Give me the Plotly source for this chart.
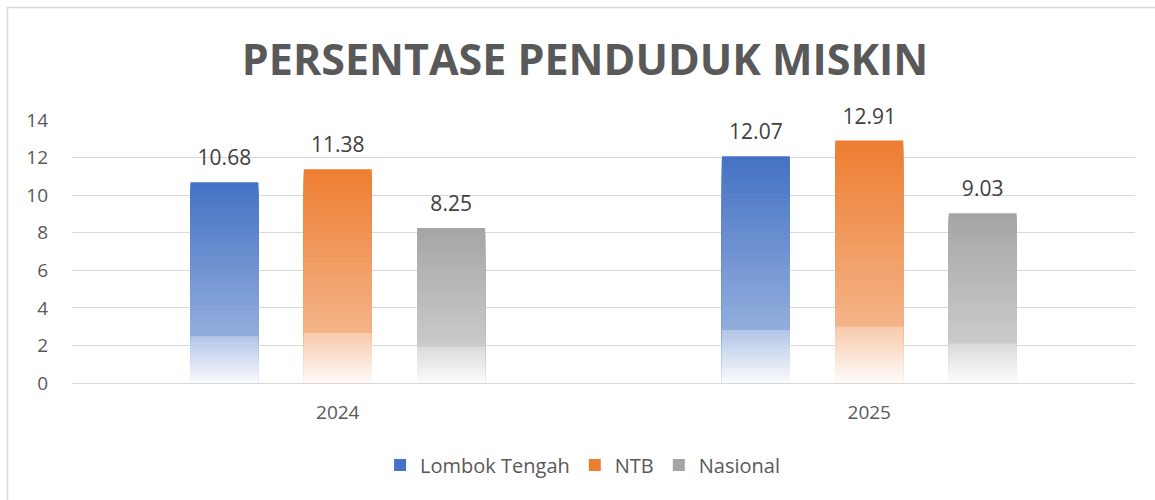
import plotly.graph_objects as go

# ---- data ----
years = ["2024", "2025"]
lombok_tengah = [10.68, 12.07]
ntb = [11.38, 12.91]
nasional = [8.25, 9.03]
series_names = ["Lombok Tengah", "NTB", "Nasional"]
y_tick_vals = [0, 2, 4, 6, 8, 10, 12, 14]
title_text = "PERSENTASE PENDUDUK MISKIN"

# ---- style ----
base_colors = [(68, 114, 196), (237, 125, 49), (165, 165, 165)]
N_LEVELS = 60
LABEL_PAD = 0.42


def mix_white(rgb, t):
    return "rgb(%d,%d,%d)" % tuple(round(c + (255 - c) * t) for c in rgb)


def grad_t(f):
    # f: fraction of bar height (0 = bottom, 1 = top)
    if f >= 0.24:
        return 0.42 * (1 - f) / 0.76
    return 0.58 + (0.24 - f) / 0.24 * (0.97 - 0.58)


fig = go.Figure()
series_values = [lombok_tengah, ntb, nasional]
for s, (name, vals, rgb) in enumerate(zip(series_names, series_values, base_colors)):
    for k in range(N_LEVELS):
        f_top = 1 - k / N_LEVELS
        f_mid = f_top - 0.5 / N_LEVELS
        fig.add_trace(go.Bar(
            x=years,
            y=[v * f_top for v in vals],
            name=name,
            legendgroup=name,
            showlegend=(k == 0),
            offsetgroup=str(s),
            marker=dict(color=mix_white(rgb, grad_t(f_mid if k else 0.999)), line=dict(width=0)),
            hoverinfo="skip",
        ))
    # data labels
    fig.add_trace(go.Bar(
        x=years,
        y=[LABEL_PAD] * len(vals),
        base=vals,
        offsetgroup=str(s),
        showlegend=False,
        marker=dict(color="rgba(0,0,0,0)", line=dict(width=0)),
        text=["%.2f" % v for v in vals],
        textposition="outside",
        constraintext="none",
        cliponaxis=False,
        textfont=dict(family="Open Sans", size=21, color="#404040"),
        hoverinfo="skip",
    ))

fig.update_layout(
    width=1155,
    height=500,
    paper_bgcolor="white",
    plot_bgcolor="white",
    margin=dict(l=72, r=20, t=120, b=117),
    barmode="group",
    bargap=0.36,
    bargroupgap=0.40,
    title=dict(
        text="<b>%s</b>" % title_text,
        font=dict(family="Open Sans", size=43, color="#595959"),
        x=0.5065, xref="container", xanchor="center",
        y=0.88, yref="container", yanchor="middle",
    ),
    legend=dict(
        orientation="h",
        xref="container", x=0.5044, xanchor="center",
        yref="container", y=0.07, yanchor="middle",
        font=dict(family="Open Sans", size=20, color="#595959"),
        traceorder="normal",
    ),
    xaxis=dict(
        type="category",
        showgrid=False,
        showline=True,
        linecolor="#D9D9D9",
        linewidth=1,
        ticks="",
        tickfont=dict(family="Open Sans", size=19, color="#595959"),
        ticklabelstandoff=12,
    ),
    yaxis=dict(
        range=[0, 14],
        tickvals=y_tick_vals,
        showgrid=True,
        gridcolor="#D9D9D9",
        gridwidth=1,
        zeroline=False,
        showline=False,
        ticks="",
        tickfont=dict(family="Open Sans", size=19, color="#595959"),
        ticklabelstandoff=23,
    ),
    shapes=[dict(
        type="rect", xref="paper", yref="paper",
        x0=-0.0607, x1=1.1, y0=-0.6, y1=1.4278,
        line=dict(color="#D9D9D9", width=1.5),
        fillcolor="rgba(0,0,0,0)", layer="below",
    )],
)

fig.write_html(
    "out.html",
    config={"displayModeBar": False},
    post_script="document.body.style.margin='0';document.body.style.padding='0';",
)
